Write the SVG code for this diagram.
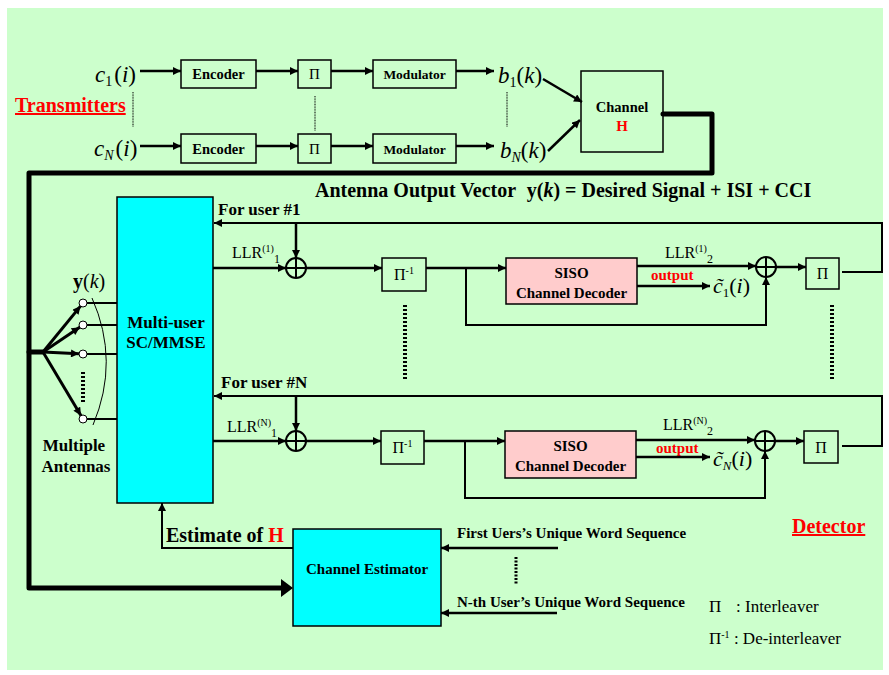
<svg xmlns="http://www.w3.org/2000/svg" width="889" height="675" viewBox="0 0 889 675">
<defs>
<marker id="ah" viewBox="0 0 10 10" refX="10" refY="5" markerWidth="9" markerHeight="8" markerUnits="userSpaceOnUse" orient="auto"><path d="M0,0 L10,5 L0,10 z" fill="#000"/></marker>
</defs>
<style>
text{font-family:"Liberation Serif","Times New Roman",serif;fill:#000}
.b{font-weight:bold}
.box{fill:none;stroke:#000;stroke-width:1.5}
.ln{fill:none;stroke:#000;stroke-width:2.5}
.fb{fill:none;stroke:#000;stroke-width:2}
.thin{fill:none;stroke:#000;stroke-width:1}
.thick{fill:none;stroke:#000;stroke-width:5;stroke-linejoin:round;stroke-linecap:round}
.dot{fill:none;stroke:#000;stroke-width:4;stroke-dasharray:2,2}
.red{fill:#FF0000}
.sum{fill:none;stroke:#000;stroke-width:2}
</style>
<rect x="7" y="8" width="876" height="662" fill="#CCFFCC"/>

<!-- Transmitter texts -->
<g id="transmitters-label"><text x="15" y="112" class="b red" font-size="20" text-decoration="underline">Transmitters</text></g>
<g id="c1"><text x="95" y="82" font-size="23"><tspan font-style="italic">c</tspan><tspan font-size="14" dy="4">1</tspan><tspan dy="-4" dx="2">(</tspan><tspan font-style="italic">i</tspan>)</text></g>
<g id="cN"><text x="94" y="156" font-size="23"><tspan font-style="italic">c</tspan><tspan font-size="14" font-style="italic" dy="4">N</tspan><tspan dy="-4" dx="2">(</tspan><tspan font-style="italic">i</tspan>)</text></g>

<g id="enc1"><rect x="181" y="60" width="75" height="28" class="box"/><text x="218.5" y="79" class="b" font-size="14.5" text-anchor="middle">Encoder</text></g>
<g id="encN"><rect x="181" y="134" width="75" height="29" class="box"/><text x="218.5" y="154" class="b" font-size="14.5" text-anchor="middle">Encoder</text></g>
<g id="pi1"><rect x="298" y="60" width="33" height="28" class="box"/><text x="314.5" y="79" font-size="15" text-anchor="middle">Π</text></g>
<g id="piN"><rect x="298" y="134" width="33" height="29" class="box"/><text x="314.5" y="154" font-size="15" text-anchor="middle">Π</text></g>
<g id="mod1"><rect x="373" y="60" width="83" height="28" class="box"/><text x="414.5" y="79" class="b" font-size="13.5" text-anchor="middle">Modulator</text></g>
<g id="modN"><rect x="373" y="134" width="83" height="29" class="box"/><text x="414.5" y="154" class="b" font-size="13.5" text-anchor="middle">Modulator</text></g>
<g id="b1"><text x="498" y="83" font-size="23"><tspan font-style="italic">b</tspan><tspan font-size="14" dy="4">1</tspan><tspan dy="-4">(</tspan><tspan font-style="italic">k</tspan>)</text></g>
<g id="bN"><text x="500" y="158" font-size="23"><tspan font-style="italic">b</tspan><tspan font-size="14" font-style="italic" dy="4">N</tspan><tspan dy="-4">(</tspan><tspan font-style="italic">k</tspan>)</text></g>
<g id="channel"><rect x="581" y="71" width="82" height="81" class="box"/><text x="622" y="112" class="b" font-size="14.5" text-anchor="middle">Channel</text><text x="622" y="131" class="b red" font-size="15" text-anchor="middle">H</text></g>

<!-- Detector nodes -->
<g id="mmse"><rect x="117" y="197" width="96" height="306" fill="#00FFFF" stroke="#000" stroke-width="1.5"/><text x="166" y="328" class="b" font-size="17" text-anchor="middle">Multi-user</text><text x="166" y="348" class="b" font-size="17" text-anchor="middle">SC/MMSE</text></g>
<g id="yk"><text x="73" y="288" font-size="20"><tspan class="b">y</tspan>(<tspan font-style="italic">k</tspan>)</text></g>
<g id="antennas-label"><text x="74" y="451" class="b" font-size="17" text-anchor="middle">Multiple</text><text x="76" y="472" class="b" font-size="17" text-anchor="middle">Antennas</text></g>
<g id="antennas">
<circle cx="83" cy="303" r="4" fill="#fff" stroke="#000" stroke-width="1"/>
<circle cx="83" cy="325" r="4" fill="#fff" stroke="#000" stroke-width="1"/>
<circle cx="83" cy="354" r="4" fill="#fff" stroke="#000" stroke-width="1"/>
<circle cx="83" cy="419" r="4" fill="#fff" stroke="#000" stroke-width="1"/>
<path d="M92 298 Q120 361 93 425" class="thin"/>
<line x1="83" y1="372" x2="83" y2="402" class="dot"/>
</g>
<g id="title"><text x="315" y="197" class="b" font-size="20">Antenna Output Vector <tspan dx="6">y(</tspan><tspan font-style="italic">k</tspan>) = Desired Signal + ISI + CCI</text></g>

<g id="user1-label"><text x="218" y="215" class="b" font-size="17">For user #1</text></g>
<g id="userN-label"><text x="221" y="388" class="b" font-size="17">For user #N</text></g>
<g id="llr11"><text x="232" y="258" font-size="16">LLR<tspan font-size="10" dy="-6">(1)</tspan><tspan font-size="12" dy="11">1</tspan></text></g>
<g id="llrN1"><text x="227" y="432" font-size="16">LLR<tspan font-size="10" dy="-6">(N)</tspan><tspan font-size="12" dy="11">1</tspan></text></g>
<g id="llr12"><text x="665" y="258" font-size="16">LLR<tspan font-size="10" dy="-6">(1)</tspan><tspan font-size="12" dy="11">2</tspan></text></g>
<g id="llrN2"><text x="663" y="430" font-size="16">LLR<tspan font-size="10" dy="-6">(N)</tspan><tspan font-size="12" dy="11">2</tspan></text></g>

<g id="sum1a"><circle cx="296" cy="268" r="10" class="sum"/><path d="M286 268H306M296 258V278" class="sum"/></g>
<g id="sumNa"><circle cx="296" cy="441" r="10" class="sum"/><path d="M286 441H306M296 431V451" class="sum"/></g>
<g id="sum1b"><circle cx="766" cy="267" r="10" class="sum"/><path d="M756 267H776M766 257V277" class="sum"/></g>
<g id="sumNb"><circle cx="765" cy="441" r="10" class="sum"/><path d="M755 441H775M765 431V451" class="sum"/></g>

<g id="deint1"><rect x="382" y="258" width="44" height="33" class="box"/><text x="404" y="280" font-size="16" text-anchor="middle">Π<tspan font-size="10" dy="-6">-1</tspan></text></g>
<g id="deintN"><rect x="381" y="431" width="43" height="33" class="box"/><text x="402.5" y="453" font-size="16" text-anchor="middle">Π<tspan font-size="10" dy="-6">-1</tspan></text></g>
<g id="siso1"><rect x="506" y="258" width="131" height="46" fill="#FFCCCC" stroke="#000" stroke-width="1.5"/><text x="571.5" y="278" class="b" font-size="15" text-anchor="middle">SISO</text><text x="571.5" y="298" class="b" font-size="15" text-anchor="middle">Channel Decoder</text></g>
<g id="sisoN"><rect x="505" y="431" width="131" height="47" fill="#FFCCCC" stroke="#000" stroke-width="1.5"/><text x="570.5" y="451" class="b" font-size="15" text-anchor="middle">SISO</text><text x="570.5" y="471" class="b" font-size="15" text-anchor="middle">Channel Decoder</text></g>
<g id="out1"><text x="651" y="280" class="b red" font-size="15">output</text><text x="713" y="293" font-size="22"><tspan font-style="italic">c̃</tspan><tspan font-size="13" dy="4">1</tspan><tspan dy="-4">(</tspan><tspan font-style="italic">i</tspan>)</text></g>
<g id="outN"><text x="656" y="453" class="b red" font-size="15">output</text><text x="713" y="466" font-size="22"><tspan font-style="italic">c̃</tspan><tspan font-size="13" font-style="italic" dy="4">N</tspan><tspan dy="-4">(</tspan><tspan font-style="italic">i</tspan>)</text></g>
<g id="int1"><rect x="806" y="258" width="33" height="31" class="box"/><text x="822.5" y="279" font-size="16" text-anchor="middle">Π</text></g>
<g id="intN"><rect x="804" y="431" width="34" height="32" class="box"/><text x="821" y="453" font-size="16" text-anchor="middle">Π</text></g>

<g id="estimator"><rect x="293" y="529" width="148" height="97" fill="#00FFFF" stroke="#000" stroke-width="1.5"/><text x="367" y="574" class="b" font-size="15" text-anchor="middle">Channel Estimator</text></g>
<g id="est-label"><text x="166" y="542" class="b" font-size="20">Estimate of <tspan class="red">H</tspan></text></g>
<g id="uw1"><text x="457" y="538" class="b" font-size="15">First Uers’s Unique Word Sequence</text></g>
<g id="uwN"><text x="457" y="607" class="b" font-size="15">N-th User’s Unique Word Sequence</text></g>
<g id="detector-label"><text x="792" y="533" class="b red" font-size="20" text-decoration="underline">Detector</text></g>
<g id="legend"><text x="709" y="612" font-size="17">Π</text><text x="736" y="612" font-size="17">: Interleaver</text><text x="709" y="644" font-size="17">Π<tspan font-size="10" dy="-6">-1</tspan><tspan dy="6"> : De-interleaver</tspan></text></g>

<g id="connectors">
<line x1="140" y1="71" x2="181" y2="71" class="ln" marker-end="url(#ah)"/>
<line x1="256" y1="71" x2="298" y2="71" class="ln" marker-end="url(#ah)"/>
<line x1="331" y1="71" x2="373" y2="71" class="ln" marker-end="url(#ah)"/>
<line x1="456" y1="71" x2="494" y2="71" class="ln" marker-end="url(#ah)"/>
<line x1="140" y1="146" x2="181" y2="146" class="ln" marker-end="url(#ah)"/>
<line x1="256" y1="146" x2="298" y2="146" class="ln" marker-end="url(#ah)"/>
<line x1="331" y1="146" x2="373" y2="146" class="ln" marker-end="url(#ah)"/>
<line x1="456" y1="146" x2="494" y2="146" class="ln" marker-end="url(#ah)"/>
<line x1="543" y1="79" x2="582" y2="102" class="ln" marker-end="url(#ah)"/>
<line x1="548" y1="151" x2="580" y2="120" class="ln" marker-end="url(#ah)"/>
<line x1="133" y1="92" x2="133" y2="127" stroke="#000" stroke-width="1" stroke-dasharray="1,0.6"/>
<line x1="315" y1="96" x2="315" y2="131" stroke="#000" stroke-width="1" stroke-dasharray="1,0.6"/>
<line x1="507" y1="92" x2="507" y2="127" stroke="#000" stroke-width="1" stroke-dasharray="1,0.6"/>
<path d="M663 114H712V173H29V588H282" class="thick"/>
<polygon points="281,579 293,588 281,597" fill="#000"/>
<line x1="29" y1="352" x2="43" y2="352" class="thick"/>
<line x1="43" y1="352" x2="80.5" y2="306.1" stroke="#000" stroke-width="3" marker-end="url(#ah)"/>
<line x1="43" y1="352" x2="79.7" y2="327.2" stroke="#000" stroke-width="3" marker-end="url(#ah)"/>
<line x1="43" y1="352" x2="79" y2="353.8" stroke="#000" stroke-width="3" marker-end="url(#ah)"/>
<line x1="43" y1="352" x2="80.9" y2="415.6" stroke="#000" stroke-width="3" marker-end="url(#ah)"/>
<line x1="87" y1="303" x2="117" y2="303" class="fb"/>
<line x1="87" y1="325" x2="117" y2="325" class="fb"/>
<line x1="87" y1="354" x2="117" y2="354" class="fb"/>
<line x1="87" y1="419" x2="117" y2="419" class="fb"/>
<polyline points="842,272 882,272 882,223 214,223" class="fb" marker-end="url(#ah)"/>
<line x1="296" y1="223" x2="296" y2="258" class="ln" marker-end="url(#ah)"/>
<line x1="213" y1="268" x2="286" y2="268" class="ln" marker-end="url(#ah)"/>
<line x1="306" y1="268" x2="382" y2="268" class="ln" marker-end="url(#ah)"/>
<line x1="426" y1="268" x2="506" y2="268" class="ln" marker-end="url(#ah)"/>
<polyline points="466,268 466,325 766,325 766,277" class="fb" marker-end="url(#ah)"/>
<line x1="637" y1="266" x2="756" y2="266" class="ln" marker-end="url(#ah)"/>
<line x1="637" y1="286" x2="710" y2="286" class="ln" marker-end="url(#ah)"/>
<line x1="776" y1="267" x2="806" y2="267" class="ln" marker-end="url(#ah)"/>
<line x1="405" y1="305" x2="405" y2="380" class="dot"/>
<line x1="832" y1="305" x2="832" y2="380" class="dot"/>
<polyline points="842,446 882,446 882,396 214,396" class="fb" marker-end="url(#ah)"/>
<line x1="296" y1="396" x2="296" y2="431" class="ln" marker-end="url(#ah)"/>
<line x1="213" y1="441" x2="286" y2="441" class="ln" marker-end="url(#ah)"/>
<line x1="306" y1="441" x2="381" y2="441" class="ln" marker-end="url(#ah)"/>
<line x1="424" y1="441" x2="505" y2="441" class="ln" marker-end="url(#ah)"/>
<polyline points="465,441 465,498 765,498 765,451" class="fb" marker-end="url(#ah)"/>
<line x1="636" y1="440" x2="755" y2="440" class="ln" marker-end="url(#ah)"/>
<line x1="636" y1="457" x2="710" y2="457" class="ln" marker-end="url(#ah)"/>
<line x1="775" y1="441" x2="804" y2="441" class="ln" marker-end="url(#ah)"/>
<polyline points="293,548 162,548 162,503" class="fb" marker-end="url(#ah)"/>
<line x1="558" y1="548" x2="441" y2="548" class="ln" marker-end="url(#ah)"/>
<line x1="557" y1="613" x2="441" y2="613" class="ln" marker-end="url(#ah)"/>
<line x1="516" y1="557" x2="516" y2="585" stroke="#000" stroke-width="3" stroke-dasharray="2,1.5"/>
</g>
</svg>
